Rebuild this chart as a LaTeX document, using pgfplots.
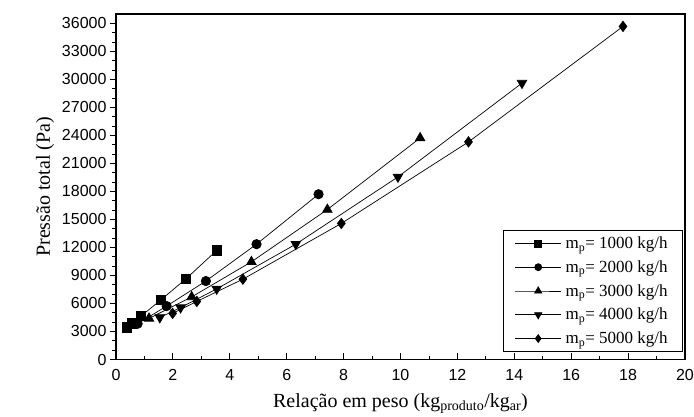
\documentclass[border=0pt]{standalone}
\usepackage{fontspec}
\setmainfont{Liberation Serif}
\setsansfont{Liberation Sans}
\usepackage{pgfplots}
\pgfplotsset{compat=1.18}
\pgfdeclareplotmark{dtri*}{%
  \pgfpathmoveto{\pgfpointpolar{-90}{1.0\pgfplotmarksize}}%
  \pgfpathlineto{\pgfpointpolar{30}{1.0\pgfplotmarksize}}%
  \pgfpathlineto{\pgfpointpolar{150}{1.0\pgfplotmarksize}}%
  \pgfpathclose\pgfusepathqfillstroke}
\begin{document}
\begin{tikzpicture}
\useasboundingbox (0,0) rectangle (694pt,417pt);
\begin{axis}[
  at={(116pt,57.5pt)}, anchor=south west,
  width=569pt, height=345.5pt, scale only axis,
  xmin=0, xmax=20, ymin=0, ymax=37000,
  xtick={0,2,...,20}, ytick={0,3000,...,36000},
  scaled y ticks=false, scaled x ticks=false,
  minor x tick num=1, minor y tick num=2,
  axis line style={line width=1.1pt},
  major tick length=6pt, minor tick length=3.5pt,
  tick style={line width=0.9pt, black},
  xtick pos=bottom, ytick pos=left,
  every major y tick/.append style={xshift=-6pt},
  every minor y tick/.append style={xshift=-3.5pt},
  /pgf/number format/assume math mode=true,
  /pgf/number format/1000 sep={},
  tick label style={font=\fontsize{16}{16}\sffamily\selectfont},
  yticklabel style={xshift=-6pt},
  xticklabel style={yshift=-6pt},
  label style={font=\fontsize{20}{22}\selectfont},
  xlabel={Relação em peso (kg\textsubscript{produto}/kg\textsubscript{ar})},
  ylabel={Pressão total (Pa)},
  xlabel style={yshift=-6pt},
  ylabel style={yshift=1pt},
  every axis plot/.append style={black, line width=0.7pt},
  legend image code/.code={\draw[mark options={scale=0.75}, mark repeat=2, mark phase=2] plot coordinates {(0pt,0pt) (23pt,0pt) (46pt,0pt)};},
  legend style={at={(0.9965,0.0226)}, anchor=south east, draw=black,
    line width=0.9pt, font=\fontsize{17}{19}\selectfont, row sep=6.5pt,
    inner xsep=11pt, inner ysep=4pt,
    nodes={inner xsep=4pt}},
  legend cell align=left,
]
\addplot[mark=square*, mark size=4.6pt] coordinates {
(0.38,3440) (0.57,3870) (0.88,4650) (1.57,6360) (2.46,8640) (3.54,11680)};
\addlegendentry{m\textsubscript{p}= 1000 kg/h}
\addplot[mark=*, mark size=4.7pt] coordinates {
(0.76,3830) (1.78,5720) (3.16,8400) (4.94,12350) (7.12,17700)};
\addlegendentry{m\textsubscript{p}= 2000 kg/h}
\addplot[mark=triangle*, mark size=5.5pt] coordinates {
(1.16,4400) (2.66,6700) (4.76,10460) (7.43,16060) (10.69,23720)};
\addlegendentry{m\textsubscript{p}= 3000 kg/h}
\addplot[mark=dtri*, mark size=5.5pt] coordinates {
(1.54,4500) (2.27,5560) (3.54,7560) (6.32,12350) (9.91,19550) (14.27,29600)};
\addlegendentry{m\textsubscript{p}= 4000 kg/h}
\addplot[mark=diamond*, mark size=5.2pt] coordinates {
(1.99,4940) (2.84,6220) (4.46,8600) (7.92,14570) (12.39,23300) (17.82,35670)};
\addlegendentry{m\textsubscript{p}= 5000 kg/h}
\end{axis}
\end{tikzpicture}
\end{document}
